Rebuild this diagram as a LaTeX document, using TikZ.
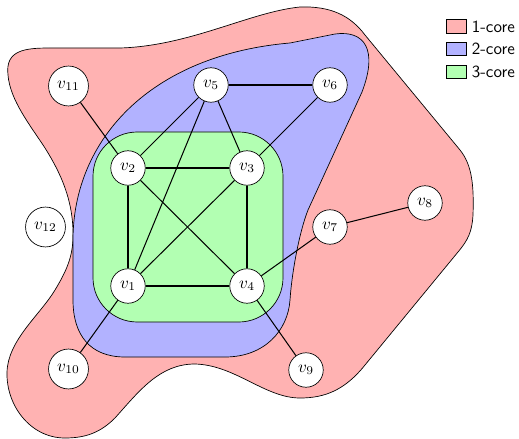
\documentclass[tikz,border=0pt]{standalone}
\begin{document}
\begin{tikzpicture}[x=0.5882pt,y=-0.5882pt,
  vtx/.style={circle,draw,fill=white,thin},
  edge/.style={semithick},
  region/.style={draw=black,thin},
  legbox/.style={draw=black,thin,minimum width=11.8pt,minimum height=8pt,inner sep=0pt},
  legtext/.style={anchor=west,font=\sffamily,inner sep=3pt}]
\useasboundingbox (0,0) rectangle (519,439);
% 1-core
\filldraw[region,fill=red!30]
 (8,75) .. controls (5,50) and (25,48) .. (50,48)
 -- (120,48) .. controls (190,46) and (250,12) .. (300,7)
 .. controls (330,6) and (350,15) .. (365,35)
 -- (460,150) .. controls (472,165) and (474,185) .. (473,215)
 .. controls (472,232) and (468,240) .. (458,252)
 -- (365,365) .. controls (345,390) and (325,398) .. (300,398)
 .. controls (265,398) and (235,365) .. (195,364)
 .. controls (160,364) and (140,390) .. (115,418)
 .. controls (100,433) and (85,438) .. (65,438)
 .. controls (30,438) and (6,405) .. (7,372)
 .. controls (8,340) and (40,315) .. (55,290)
 .. controls (67,270) and (74,255) .. (73,230)
 .. controls (72,200) and (62,175) .. (45,148)
 .. controls (30,125) and (10,100) .. (8,75) -- cycle;
% 2-core
\filldraw[region,fill=blue!30]
 (73,300) -- (73,240) .. controls (73,140) and (150,55) .. (290,43)
 -- (335,34) .. controls (365,30) and (378,50) .. (362,92)
 -- (308,210) .. controls (300,230) and (292,270) .. (290,300)
 .. controls (288,330) and (265,357) .. (225,357)
 -- (125,357) .. controls (90,357) and (73,335) .. (73,300) -- cycle;
% 3-core
\filldraw[region,fill=green!30,rounded corners=26pt] (93,132) rectangle (283,322);
% vertices
\node[vtx] (v1) at (128,286) {$v_1$};
\node[vtx] (v2) at (128,168) {$v_2$};
\node[vtx] (v3) at (247,168) {$v_3$};
\node[vtx] (v4) at (247,286) {$v_4$};
\node[vtx] (v5) at (211,85) {$v_5$};
\node[vtx] (v6) at (330,85) {$v_6$};
\node[vtx] (v7) at (330,227) {$v_7$};
\node[vtx] (v8) at (425,203) {$v_8$};
\node[vtx] (v9) at (306,370) {$v_9$};
\node[vtx] (v10) at (68.5,369) {$v_{10}$};
\node[vtx] (v11) at (68.5,86) {$v_{11}$};
\node[vtx] (v12) at (45.5,227) {$v_{12}$};
% edges
\draw[edge] (v11) -- (v2);
\draw[edge] (v5) -- (v6);
\draw[edge] (v5) -- (v2);
\draw[edge] (v5) -- (v3);
\draw[edge] (v5) -- (v1);
\draw[edge] (v6) -- (v3);
\draw[edge] (v2) -- (v3);
\draw[edge] (v2) -- (v1);
\draw[edge] (v2) -- (v4);
\draw[edge] (v3) -- (v1);
\draw[edge] (v3) -- (v4);
\draw[edge] (v1) -- (v4);
\draw[edge] (v4) -- (v7);
\draw[edge] (v7) -- (v8);
\draw[edge] (v4) -- (v9);
\draw[edge] (v1) -- (v10);
% legend
\node[legbox,fill=red!30] (l1) at (456,26.5) {};
\node[legbox,fill=blue!30] (l2) at (456,49) {};
\node[legbox,fill=green!30] (l3) at (456,72) {};
\node[legtext] (t1) at (l1.east) {1-core};
\node[legtext] (t2) at (l2.east) {2-core};
\node[legtext] (t3) at (l3.east) {3-core};
\end{tikzpicture}
\end{document}
